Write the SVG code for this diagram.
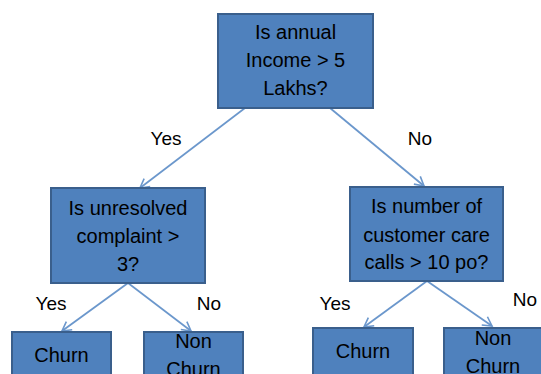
<svg xmlns="http://www.w3.org/2000/svg" width="541" height="374" viewBox="0 0 541 374">
  <defs>
    <marker id="arrow" markerWidth="12" markerHeight="12" refX="10" refY="6" orient="auto" markerUnits="userSpaceOnUse">
      <path d="M1,1 L10,6 L1,11" fill="none" stroke="#6B97CC" stroke-width="1.6"/>
    </marker>
    <style>
      .box { fill: #4F81BD; stroke: #3A5F8C; stroke-width: 2; }
      .t { font-family: "Liberation Sans", Arial, sans-serif; font-size: 20px; fill: #000; text-anchor: middle; }
      .lbl { font-family: "Liberation Sans", Arial, sans-serif; font-size: 19px; fill: #000; text-anchor: middle; }
      .edge { stroke: #6B97CC; stroke-width: 1.8; fill: none; marker-end: url(#arrow); }
    </style>
  </defs>
  <rect width="541" height="374" fill="#ffffff"/>

  <g id="connectors">
    <line class="edge" x1="245" y1="108" x2="140" y2="188"/>
    <line class="edge" x1="330" y1="108" x2="424" y2="186"/>
    <line class="edge" x1="128" y1="283" x2="62" y2="331"/>
    <line class="edge" x1="128" y1="283" x2="191" y2="331"/>
    <line class="edge" x1="427" y1="281" x2="364" y2="327"/>
    <line class="edge" x1="427" y1="281" x2="492" y2="326"/>
  </g>

  <g id="edge-labels">
    <text class="lbl" x="166" y="145">Yes</text>
    <text class="lbl" x="420" y="145">No</text>
    <text class="lbl" x="51" y="310">Yes</text>
    <text class="lbl" x="209" y="310">No</text>
    <text class="lbl" x="335" y="310">Yes</text>
    <text class="lbl" x="525" y="306">No</text>
  </g>

  <g id="root">
    <rect class="box" x="218" y="14" width="155" height="94"/>
    <text class="t" x="295.5" y="39">Is annual</text>
    <text class="t" x="295.5" y="67">Income &gt; 5</text>
    <text class="t" x="295.5" y="95">Lakhs?</text>
  </g>

  <g id="complaints">
    <rect class="box" x="51" y="188" width="154" height="95"/>
    <text class="t" x="128" y="215">Is unresolved</text>
    <text class="t" x="128" y="243">complaint &gt;</text>
    <text class="t" x="128" y="271">3?</text>
  </g>

  <g id="calls">
    <rect class="box" x="350" y="187" width="153" height="94"/>
    <text class="t" x="426.5" y="213">Is number of</text>
    <text class="t" x="426.5" y="242">customer care</text>
    <text class="t" x="426.5" y="269">calls &gt; 10 po?</text>
  </g>

  <g id="churn-left">
    <rect class="box" x="12" y="332" width="99" height="60"/>
    <text class="t" x="61.5" y="362">Churn</text>
  </g>

  <g id="nonchurn-left">
    <rect class="box" x="144" y="332" width="99" height="60"/>
    <text class="t" x="193.5" y="348">Non</text>
    <text class="t" x="193.5" y="376">Churn</text>
  </g>

  <g id="churn-right">
    <rect class="box" x="313" y="328" width="100" height="60"/>
    <text class="t" x="363" y="358">Churn</text>
  </g>

  <g id="nonchurn-right">
    <rect class="box" x="444" y="328" width="99" height="60"/>
    <text class="t" x="493" y="345">Non</text>
    <text class="t" x="493" y="373">Churn</text>
  </g>
</svg>
